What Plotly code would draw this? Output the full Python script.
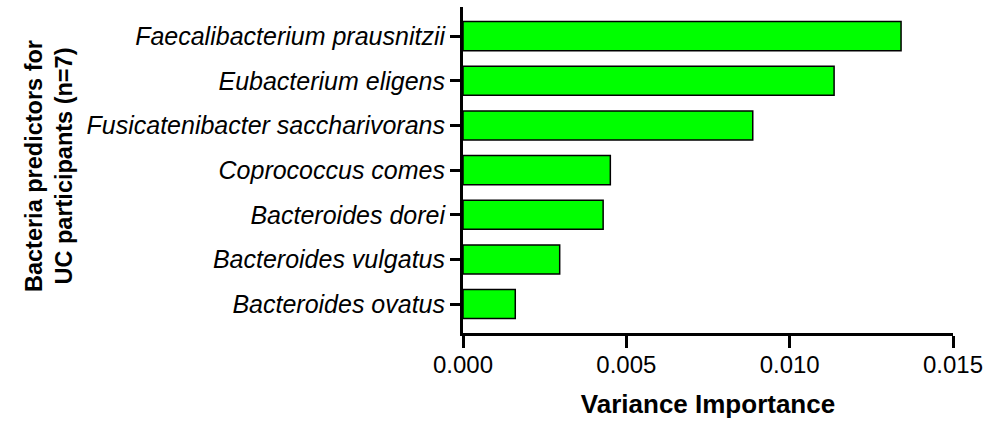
import plotly.graph_objects as go

species = [
    "Faecalibacterium prausnitzii",
    "Eubacterium eligens",
    "Fusicatenibacter saccharivorans",
    "Coprococcus comes",
    "Bacteroides dorei",
    "Bacteroides vulgatus",
    "Bacteroides ovatus",
]
importance = [0.01341, 0.01136, 0.00887, 0.00451, 0.00429, 0.00296, 0.00160]
x_ticks = [0.0, 0.005, 0.010, 0.015]
x_tick_labels = ["0.000", "0.005", "0.010", "0.015"]

FONT = "Liberation Sans, Arial, Helvetica, sans-serif"

fig = go.Figure(
    go.Bar(
        x=importance,
        y=species,
        orientation="h",
        width=0.65,
        marker=dict(color="#00FF00", line=dict(color="black", width=1.5)),
    )
)

fig.update_layout(
    width=990,
    height=422,
    margin=dict(l=463, r=33, t=7, b=87),
    plot_bgcolor="white",
    paper_bgcolor="white",
    showlegend=False,
    font=dict(family=FONT, color="black"),
    annotations=[
        dict(
            text="<b>Bacteria predictors for<br>UC participants (n=7)</b>",
            xref="paper", yref="paper",
            x=-0.845, y=0.512,
            xanchor="center", yanchor="middle",
            textangle=-90,
            showarrow=False,
            font=dict(size=23.5, family=FONT, color="black"),
        )
    ],
)

fig.update_xaxes(
    range=[0, 0.015],
    tickvals=x_ticks,
    ticktext=x_tick_labels,
    showline=True, linewidth=3, linecolor="black",
    ticks="outside", ticklen=12, tickwidth=3, tickcolor="black",
    tickfont=dict(size=24, family=FONT, color="black"),
    ticklabelstandoff=-4,
    showgrid=False, zeroline=False,
    title=dict(text="<b>Variance Importance</b>", font=dict(size=26, family=FONT, color="black"), standoff=19),
)

fig.update_yaxes(
    type="category",
    categoryorder="array",
    categoryarray=species,
    range=[6.647, -0.652],
    showline=True, linewidth=3, linecolor="black",
    ticks="outside", ticklen=10, tickwidth=3, tickcolor="black",
    tickfont=dict(size=25, family=FONT, color="black", style="italic"),
    showgrid=False, zeroline=False,
)

fig.write_html(
    "out.html",
    config={"displayModeBar": False},
    post_script="document.body.style.margin='0';document.body.style.overflow='hidden';",
)
